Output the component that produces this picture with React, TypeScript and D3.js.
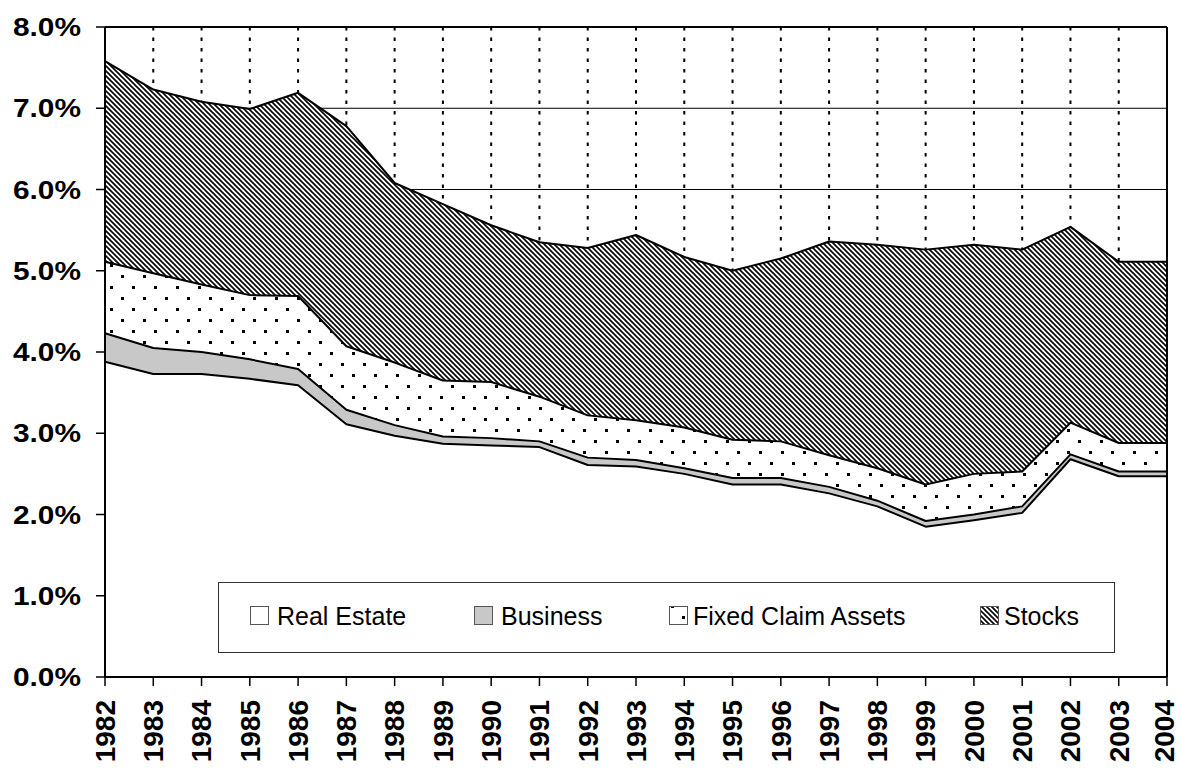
import React from 'react';
import * as d3 from 'd3';

const years = d3.range(1982, 2005);
const seriesNames = ['Real Estate', 'Business', 'Fixed Claim Assets', 'Stocks'];

// values in percent
const realEstate = [3.88, 3.73, 3.73, 3.67, 3.59, 3.11, 2.97, 2.87, 2.85, 2.83, 2.61, 2.59, 2.50, 2.37, 2.37, 2.26, 2.10, 1.85, 1.93, 2.02, 2.68, 2.47, 2.47];
const business = [0.35, 0.32, 0.27, 0.24, 0.20, 0.18, 0.13, 0.09, 0.09, 0.07, 0.09, 0.08, 0.07, 0.08, 0.08, 0.08, 0.07, 0.07, 0.07, 0.08, 0.06, 0.06, 0.06];
const fixedClaim = [0.88, 0.92, 0.83, 0.79, 0.90, 0.78, 0.77, 0.69, 0.69, 0.55, 0.52, 0.49, 0.50, 0.47, 0.45, 0.39, 0.40, 0.45, 0.50, 0.43, 0.39, 0.35, 0.35];
const stocks = [2.47, 2.26, 2.25, 2.29, 2.50, 2.71, 2.21, 2.17, 1.93, 1.90, 2.06, 2.28, 2.10, 2.08, 2.25, 2.63, 2.75, 2.89, 2.82, 2.73, 2.41, 2.23, 2.23];

const yTicks = [0, 1, 2, 3, 4, 5, 6, 7, 8];

const W = 1181;
const H = 769;
const margin = { left: 105, right: 14, top: 27, bottom: 92 };
const font = 'Liberation Sans, Arial, sans-serif';

const fills = ['#ffffff', '#c8c8c8', 'url(#dots)', 'url(#hatch)'];

export default function App() {
  const rows = years.map((yr, i) => ({
    year: yr,
    'Real Estate': realEstate[i],
    Business: business[i],
    'Fixed Claim Assets': fixedClaim[i],
    Stocks: stocks[i],
  }));
  const stacked = d3.stack<any>().keys(seriesNames)(rows);

  const x = d3.scaleLinear()
    .domain([years[0], years[years.length - 1]])
    .range([margin.left, W - margin.right]);
  const y = d3.scaleLinear().domain([0, 8]).range([H - margin.bottom, margin.top]);

  const area = d3.area<any>()
    .x((d) => x(d.data.year))
    .y0((d) => y(d[0]))
    .y1((d) => y(d[1]));
  const topLine = d3.line<any>()
    .x((d) => x(d.data.year))
    .y((d) => y(d[1]));

  const x0 = margin.left;
  const x1 = W - margin.right;
  const yBottom = y(0);
  const yTop = y(8);

  const legendItems = [
    { name: 'Real Estate', box: 250, text: 277 },
    { name: 'Business', box: 474, text: 501 },
    { name: 'Fixed Claim Assets', box: 669, text: 693 },
    { name: 'Stocks', box: 980, text: 1004 },
  ];

  return (
    <svg width={W} height={H} style={{ position: 'absolute', left: 0, top: 0, background: '#fff' }}>
      <defs>
        <pattern id="hatch" patternUnits="userSpaceOnUse" width={5} height={5}>
          <rect width={5} height={5} fill="#fff" />
          <path d="M-1,-1 L6,6 M-1,4 L1,6 M4,-1 L6,1" stroke="#000" strokeWidth={1.6} />
        </pattern>
        <pattern id="dots" patternUnits="userSpaceOnUse" width={22} height={22}>
          <rect width={22} height={22} fill="#fff" />
          <rect x={0} y={0} width={3} height={3} fill="#000" />
          <rect x={11} y={11} width={3} height={3} fill="#000" />
        </pattern>
      </defs>

      {/* horizontal grid */}
      {yTicks.map((t) => (
        <line key={`h${t}`} x1={x0} x2={x1} y1={y(t)} y2={y(t)} stroke="#000" strokeWidth={1} />
      ))}
      {/* vertical dotted grid */}
      {years.slice(1).map((yr) => (
        <line key={`v${yr}`} x1={x(yr)} x2={x(yr)} y1={yTop} y2={yBottom}
          stroke="#000" strokeWidth={2} strokeDasharray="3.5,7" />
      ))}

      {stacked.map((s, i) => (
        <path key={s.key} d={area(s) ?? ''} fill={fills[i]} stroke="none" />
      ))}
      {stacked.map((s) => (
        <path key={`l${s.key}`} d={topLine(s) ?? ''} fill="none" stroke="#000" strokeWidth={2} strokeLinejoin="round" />
      ))}

      {/* plot border */}
      <line x1={x0} x2={x1} y1={yTop} y2={yTop} stroke="#000" strokeWidth={2} />
      <line x1={x1} x2={x1} y1={yTop} y2={yBottom} stroke="#000" strokeWidth={2} />
      <line x1={x0} x2={x0} y1={yTop} y2={yBottom} stroke="#000" strokeWidth={2} />
      <line x1={x0} x2={x1} y1={yBottom} y2={yBottom} stroke="#000" strokeWidth={2} />

      {/* y axis */}
      {yTicks.map((t) => (
        <g key={`yt${t}`}>
          <line x1={x0 - 9} x2={x0} y1={y(t)} y2={y(t)} stroke="#000" strokeWidth={1.5} />
          <text x={81} y={y(t)} dy="0.36em" textAnchor="end" fontFamily={font} fontWeight="bold"
            fontSize={25} textLength={68} lengthAdjust="spacingAndGlyphs" fill="#000">
            {d3.format('.1f')(t)}%
          </text>
        </g>
      ))}

      {/* x axis */}
      {years.map((yr) => (
        <g key={`xt${yr}`}>
          <line x1={x(yr)} x2={x(yr)} y1={yBottom} y2={yBottom + 9} stroke="#000" strokeWidth={1.5} />
          <text transform={`translate(${Math.min(x(yr), W - 17)},700) rotate(-90)`} dy="0.35em" textAnchor="end"
            fontFamily={font} fontWeight="bold" fontSize={28} fill="#000">
            {yr}
          </text>
        </g>
      ))}

      {/* legend */}
      <rect x={218.5} y={582.5} width={896} height={70} fill="#fff" stroke="#333" strokeWidth={1} />
      {legendItems.map((it, i) => (
        <g key={it.name}>
          <rect x={it.box + 0.5} y={606.5} width={18} height={18} fill={fills[i]} stroke="#555" strokeWidth={1} />
          <text x={it.text} y={625} fontFamily={font} fontSize={25} fill="#000">{it.name}</text>
        </g>
      ))}
    </svg>
  );
}
